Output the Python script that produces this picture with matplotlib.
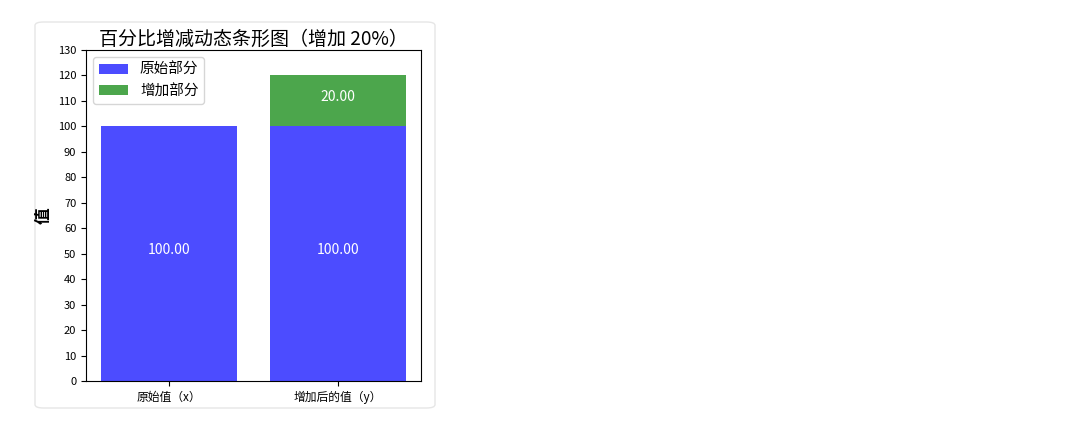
import matplotlib
matplotlib.use("Agg")
import matplotlib.pyplot as plt
from matplotlib.patches import FancyBboxPatch

plt.rcParams['font.family'] = ['Noto Sans CJK SC', 'DejaVu Sans']
plt.rcParams['axes.unicode_minus'] = False

categories = ["原始值（x）", "增加后的值（y）"]
base_vals = [100, 100]
inc_vals = [0, 20]
title = "百分比增减动态条形图（增加 20%）"

fig = plt.figure(figsize=(10.72, 4.29), dpi=100)

# light rounded frame around the chart card
card = FancyBboxPatch((35/1072, 1-408/429), 400/1072, 386/429,
                      boxstyle="round,pad=0,rounding_size=0.008",
                      transform=fig.transFigure, facecolor="none",
                      edgecolor="#e6e6e6", linewidth=1.0, zorder=-5)
fig.patches.append(card)

ax = fig.add_axes([86/1072, 1-381/429, 335/1072, 331/429])
x = list(range(len(categories)))
b1 = ax.bar(x, base_vals, width=0.8, color="blue", alpha=0.7, label="原始部分")
b2 = ax.bar(x, inc_vals, width=0.8, bottom=base_vals, color="green", alpha=0.7, label="增加部分")

for i in x:
    ax.annotate("{:.2f}".format(base_vals[i]), (i, base_vals[i]/2),
                xytext=(0, 3), textcoords="offset points", color="white",
                ha="center", va="center", fontsize=10)
    if inc_vals[i] > 0:
        ax.annotate("{:.2f}".format(inc_vals[i]), (i, base_vals[i] + inc_vals[i]/2),
                    xytext=(0, 3), textcoords="offset points", color="white",
                    ha="center", va="center", fontsize=10)

ax.set_ylim(0, 130)
ax.set_yticks(range(0, 131, 10))
ax.tick_params(axis="y", labelsize=8)
ax.tick_params(axis="x", labelsize=8.5)
ax.set_xticks(x)
ax.set_xticklabels(categories)
ax.set_ylabel("值", fontsize=12, fontweight="bold")
ax.set_title(title, fontsize=13.7, pad=3)
ax.legend(loc="upper left", fontsize=10.5)

fig.savefig("out.png", dpi=100)
